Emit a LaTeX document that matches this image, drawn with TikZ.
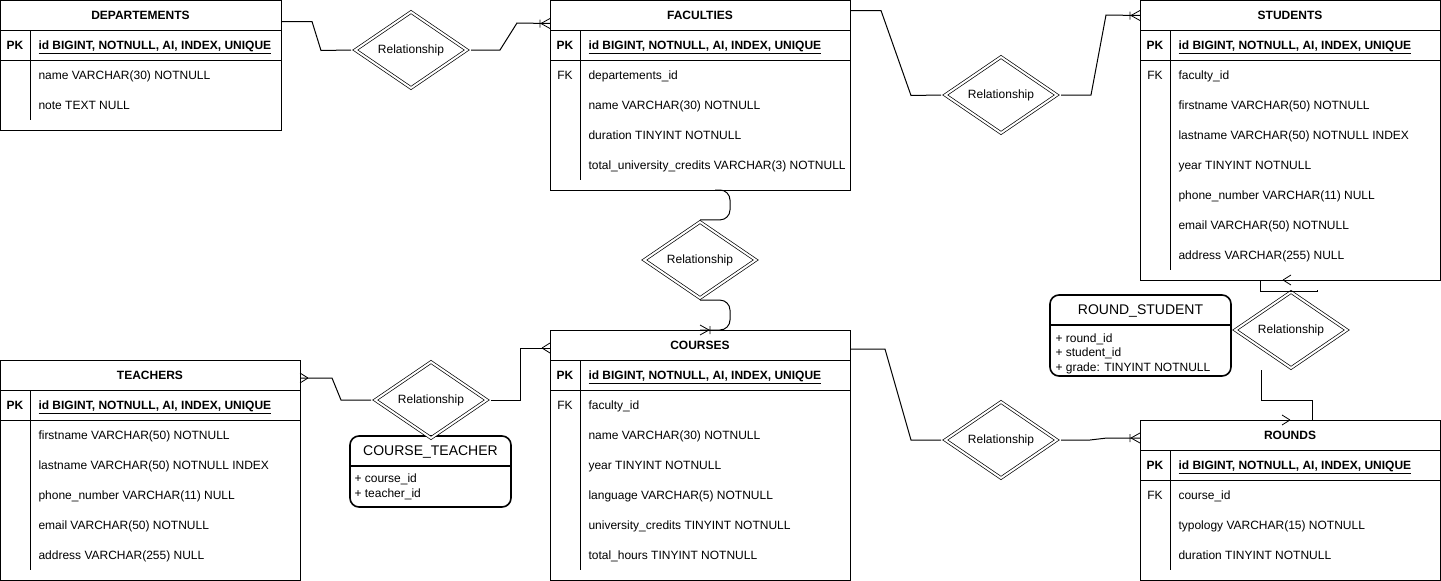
\documentclass[tikz,border=0pt]{standalone}
\usepackage{fontspec}
\setmainfont{Liberation Sans}
\usetikzlibrary{shapes.geometric}

\tikzset{
  crowone/.pic={\draw[line width=0.8pt] (-10,-4) -- (-10,4) (-9,0) -- (0,-5) (-9,0) -- (0,5);},
  crowmany/.pic={\draw[line width=0.8pt] (-8,0) -- (0,-5) (-8,0) -- (0,5);}
}

\begin{document}
\begin{tikzpicture}[x=1pt, y=-1pt, line width=1pt,
    every node/.style={font=\fontsize{12}{14}\selectfont, inner sep=0pt},
    tbl/.style={draw, anchor=north west, outer sep=0pt},
    tblhead/.style={font=\fontsize{12}{14}\selectfont\bfseries, text height=10pt, text depth=2pt},
    keycol/.style={text height=10pt, text depth=2pt},
    pkcol/.style={keycol, font=\fontsize{12}{14}\selectfont\bfseries},
    attr/.style={anchor=west, text height=10pt, text depth=2pt},
    pkattr/.style={attr, font=\fontsize{12}{14}\selectfont\bfseries},
    rel/.style={diamond, draw, double, double distance=2pt, line width=0.7pt,
      minimum width=114pt, minimum height=57pt, outer xsep=3pt, outer ysep=1.5pt},
    ubox/.style={draw, line width=1.6pt, rounded corners=9pt, anchor=north west, outer sep=0pt},
    uhead/.style={font=\fontsize{14}{16}\selectfont, text height=10pt, text depth=3pt}]
  \useasboundingbox (0,0) rectangle (1441,581);

  % tables
  \node[tbl, minimum width=280.5pt, minimum height=129.5pt] (dep) at (0.5,0.5) {};
  \node[tbl, minimum width=300pt, minimum height=189.5pt] (fac) at (550,0.5) {};
  \node[tbl, minimum width=300pt, minimum height=279.5pt] (stu) at (1140,0.5) {};
  \node[tbl, minimum width=299.5pt, minimum height=220pt] (tea) at (0.5,360) {};
  \node[tbl, minimum width=300pt, minimum height=250pt] (cou) at (550,330) {};
  \node[tbl, minimum width=300pt, minimum height=160pt] (rou) at (1140,420) {};
  \draw (0.5,30) -- (281,30) (0.5,60) -- (281,60) (30,30) -- (30,120);
  \draw (550,30) -- (850,30) (550,60) -- (850,60) (580,30) -- (580,180);
  \draw (1140,30) -- (1440,30) (1140,60) -- (1440,60) (1170,30) -- (1170,270);
  \draw (0.5,390) -- (300,390) (0.5,420) -- (300,420) (30,390) -- (30,570);
  \draw (550,360) -- (850,360) (550,390) -- (850,390) (580,360) -- (580,570);
  \draw (1140,450) -- (1440,450) (1140,480) -- (1440,480) (1170,450) -- (1170,570);

  \path
    (140.5,15) node[tblhead] (dep0){DEPARTEMENTS}
    (15,45) node[pkcol] (depk){PK}
    (38,45) node[pkattr] (dep1){\underline{id BIGINT, NOTNULL, AI, INDEX, UNIQUE}}
    (38,75) node[attr] (dep2){name VARCHAR(30) NOTNULL}
    (38,105) node[attr] (dep3){note TEXT NULL};
  \path
    (700,15) node[tblhead] (fac0){FACULTIES}
    (565,45) node[pkcol] (fack){PK}
    (565,75) node[keycol] (facf){FK}
    (588,45) node[pkattr] (fac1){\underline{id BIGINT, NOTNULL, AI, INDEX, UNIQUE}}
    (588,75) node[attr] (fac2){departements\_id}
    (588,105) node[attr] (fac3){name VARCHAR(30) NOTNULL}
    (588,135) node[attr] (fac4){duration TINYINT NOTNULL}
    (588,165) node[attr] (fac5){total\_university\_credits VARCHAR(3) NOTNULL};
  \path
    (1290,15) node[tblhead] (stu0){STUDENTS}
    (1155,45) node[pkcol] (stuk){PK}
    (1155,75) node[keycol] (stuf){FK}
    (1178,45) node[pkattr] (stu1){\underline{id BIGINT, NOTNULL, AI, INDEX, UNIQUE}}
    (1178,75) node[attr] (stu2){faculty\_id}
    (1178,105) node[attr] (stu3){firstname VARCHAR(50) NOTNULL}
    (1178,135) node[attr] (stu4){lastname VARCHAR(50) NOTNULL INDEX}
    (1178,165) node[attr] (stu5){year TINYINT NOTNULL}
    (1178,195) node[attr] (stu6){phone\_number VARCHAR(11) NULL}
    (1178,225) node[attr] (stu7){email VARCHAR(50) NOTNULL}
    (1178,255) node[attr] (stu8){address VARCHAR(255) NULL};
  \path
    (150,375) node[tblhead] (tea0){TEACHERS}
    (15,405) node[pkcol] (teak){PK}
    (38,405) node[pkattr] (tea1){\underline{id BIGINT, NOTNULL, AI, INDEX, UNIQUE}}
    (38,435) node[attr] (tea2){firstname VARCHAR(50) NOTNULL}
    (38,465) node[attr] (tea3){lastname VARCHAR(50) NOTNULL INDEX}
    (38,495) node[attr] (tea4){phone\_number VARCHAR(11) NULL}
    (38,525) node[attr] (tea5){email VARCHAR(50) NOTNULL}
    (38,555) node[attr] (tea6){address VARCHAR(255) NULL};
  \path
    (700,345) node[tblhead] (cou0){COURSES}
    (565,375) node[pkcol] (couk){PK}
    (565,405) node[keycol] (couf){FK}
    (588,375) node[pkattr] (cou1){\underline{id BIGINT, NOTNULL, AI, INDEX, UNIQUE}}
    (588,405) node[attr] (cou2){faculty\_id}
    (588,435) node[attr] (cou3){name VARCHAR(30) NOTNULL}
    (588,465) node[attr] (cou4){year TINYINT NOTNULL}
    (588,495) node[attr] (cou5){language VARCHAR(5) NOTNULL}
    (588,525) node[attr] (cou6){university\_credits TINYINT NOTNULL}
    (588,555) node[attr] (cou7){total\_hours TINYINT NOTNULL};
  \path
    (1290,435) node[tblhead] (rou0){ROUNDS}
    (1155,465) node[pkcol] (rouk){PK}
    (1155,495) node[keycol] (rouf){FK}
    (1178,465) node[pkattr] (rou1){\underline{id BIGINT, NOTNULL, AI, INDEX, UNIQUE}}
    (1178,495) node[attr] (rou2){course\_id}
    (1178,525) node[attr] (rou3){typology VARCHAR(15) NOTNULL}
    (1178,555) node[attr] (rou4){duration TINYINT NOTNULL};

  % link tables
  \node[ubox, minimum width=181pt, minimum height=81pt] (rs) at (1050,295) {};
  \draw[line width=1.6pt] (1050,325) -- (1231,325);
  \path
    (1140.5,311) node[uhead] (rs0){ROUND\_STUDENT}
    (1055,338) node[attr] (rs1){+ round\_id}
    (1055,352.5) node[attr] (rs2){+ student\_id}
    (1055,367) node[attr] (rs3){+ grade: TINYINT NOTNULL};
  \node[ubox, minimum width=161pt, minimum height=71pt] (ct) at (350,436) {};
  \draw[line width=1.6pt] (350,466) -- (511,466);
  \path
    (430.5,452) node[uhead] (ct0){COURSE\_TEACHER}
    (354,478) node[attr] (ct1){+ course\_id}
    (354,493) node[attr] (ct2){+ teacher\_id};

  % relationships
  \node[rel] (r1) at (411,50) {Relationship};
  \node[rel] (r2) at (1001,95) {Relationship};
  \node[rel] (r3) at (700,260) {Relationship};
  \node[rel] (r4) at (431,400) {Relationship};
  \node[rel] (r5) at (1001,440) {Relationship};
  \node[rel] (r6) at (1291,330) {Relationship};

  \begin{scope}[-]
    \draw ([yshift=-21pt]dep.north east) -- ++(31,0) -- ++(9,29) -- (r1.west);
    \draw (r1.east) -- ++(29,0) -- ++(17,-27) -- ([yshift=-23pt]fac.north west) pic {crowone};
    \draw ([yshift=-10pt]fac.north east) -- ++(31,0) -- ++(30,85) -- (r2.west);
    \draw (r2.east) -- ++(30,0) -- ++(15,-80) -- ([yshift=-15pt]stu.north west) pic {crowone};
    \draw[rounded corners=10pt] ([xshift=15pt]fac.south) -- ([xshift=30pt]fac.south) |- (r3.north);
    \draw[rounded corners=10pt] (r3.south) -| ([xshift=30pt]cou.north) -- (cou.north) pic[rotate=180] {crowone};
    \draw ([yshift=-18pt]tea.north east) pic[rotate=180] {crowmany} -- ++(32,0) -- ++(9,22) -- (r4.west);
    \draw (r4.east) -| ([xshift=-30pt,yshift=-18pt]cou.north west) -- ([yshift=-18pt]cou.north west) pic {crowmany};
    \draw ([yshift=-19pt]cou.north east) -- ++(35,0) -- ++(26,91) -- (r5.west);
    \draw (r5.east) -- ++(29,0) -- ++(17,-2) -- ([yshift=-18pt]rou.north west) pic {crowone};
    \draw ([xshift=1pt]stu.south) pic {crowmany} -- ++(-31,0) -- ++(0,11) -| ([xshift=26pt]r6.north);
    \draw ([xshift=-30pt]r6.south) -- ++(0,30) -| ([xshift=22pt]rou.north) -- ([xshift=-8pt]rou.north) pic[rotate=180] {crowmany};
  \end{scope}
\end{tikzpicture}
\end{document}
